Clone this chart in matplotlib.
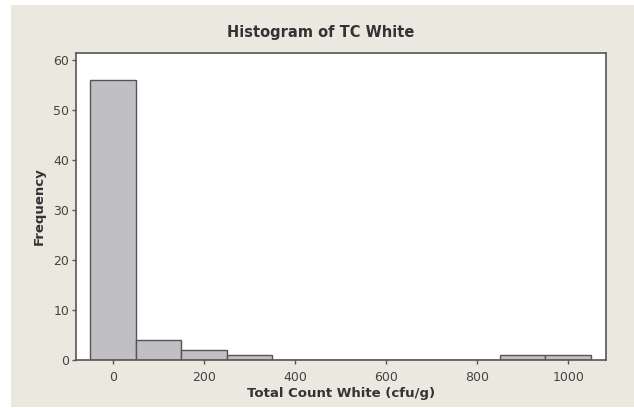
import numpy as np
import matplotlib
matplotlib.use("Agg")
import matplotlib.pyplot as plt
from matplotlib.patches import Rectangle

# bin midpoints (cfu/g) and counts
bin_centers = [0, 100, 200, 300, 400, 500, 600, 700, 800, 900, 1000]
counts = [56, 4, 2, 1, 0, 0, 0, 0, 0, 1, 1]
bin_width = 100
x_ticks = [0, 200, 400, 600, 800, 1000]
y_ticks = [0, 10, 20, 30, 40, 50, 60]

W, H = 634, 408
fig = plt.figure(figsize=(W / 100, H / 100), dpi=100)
fig.patch.set_facecolor("white")

# beige Minitab-style background panel
fig.patches.append(Rectangle((11 / W, 1 / H), (W - 11) / W, (407 - 5) / H,
                             transform=fig.transFigure, facecolor="#ebe8df",
                             edgecolor="none", zorder=-5))

ax = fig.add_axes([76 / W, (H - 360) / H, (606 - 76) / W, (360 - 53) / H])
ax.set_zorder(2)
ax.set_facecolor("white")

ax.bar(bin_centers, counts, width=bin_width, color="#c0c0c4",
       edgecolor="#555555", linewidth=1.0, align="center")

ax.set_xlim(-81, 1083)
ax.set_ylim(0, 61.4)
ax.set_xticks(x_ticks)
ax.set_yticks(y_ticks)

for side in ["left", "bottom", "right", "top"]:
    ax.spines[side].set_color("#555555")
    ax.spines[side].set_linewidth(1.2)

ax.tick_params(axis="both", direction="out", length=3, width=1, color="#555555",
               labelsize=9, labelcolor="#444444", pad=2)
ax.tick_params(axis="x", pad=5)

ax.set_xlabel("Total Count White (cfu/g)", fontsize=9.5, fontweight="bold",
              color="#333333", labelpad=2)
ax.set_ylabel("Frequency", fontsize=9.5, fontweight="bold", color="#333333",
              labelpad=5)

fig.text(321 / W, 1 - 33 / H, "Histogram of TC White", ha="center", va="center",
         fontsize=10.5, fontweight="bold", color="#333333", zorder=3)

fig.savefig("out.png", dpi=100)
